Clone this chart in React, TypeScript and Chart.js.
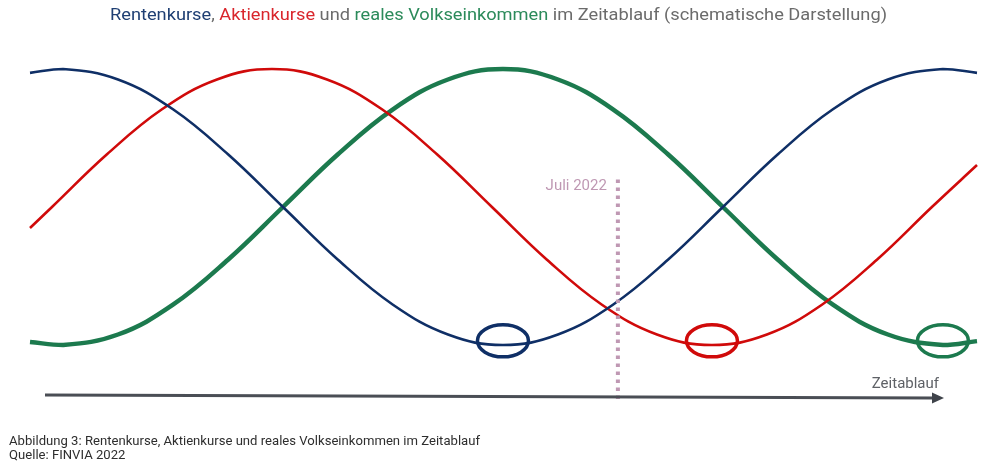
import React, { useEffect, useRef } from "react";
import { Chart, registerables } from "chart.js";
Chart.register(...registerables);

// Time axis (schematic units) and series values (0 = trough, 100 = peak)
const timesRentenVolk = [0, 0.6, 1.6, 2.6, 3.6, 4.6, 5.6, 6.6, 7.6, 8.6, 9.6, 10.6, 11.6, 12.6, 13.6, 14.6, 15.6, 16.6, 17.22];
const rentenkurse = [98.6, 100, 96.2, 85.4, 69.1, 50, 30.9, 14.6, 3.8, 0, 3.8, 14.6, 30.9, 50, 69.1, 85.4, 96.2, 100, 98.6];
const volkseinkommen = [1.1, 0, 3.8, 14.6, 30.9, 50, 69.1, 85.4, 96.2, 100, 96.2, 85.4, 69.1, 50, 30.9, 14.6, 3.8, 0, 1.4];
const timesAktien = [0, 0.4, 1.4, 2.4, 3.4, 4.4, 5.4, 6.4, 7.4, 8.4, 9.4, 10.4, 11.4, 12.4, 13.4, 14.4, 15.4, 16.4, 17.22];
const aktienkurse = [42.4, 50, 69.1, 85.4, 96.2, 100, 96.2, 85.4, 69.1, 50, 30.9, 14.6, 3.8, 0, 3.8, 14.6, 30.9, 50, 65.2];

const markerTime = 10.69;
const markerLabel = "Juli 2022";
const troughTimes = { renten: 8.6, aktien: 12.4, volk: 16.6 };
const axisLabel = "Zeitablauf";
const titleParts: [string, string][] = [
  ["Rentenkurse", "#1f3f73"],
  [", ", "#6b6b6b"],
  ["Aktienkurse", "#d9262c"],
  [" und ", "#6b6b6b"],
  ["reales Volkseinkommen", "#2b8a5a"],
  [" im Zeitablauf (schematische Darstellung)", "#6b6b6b"],
];
const caption1 = "Abbildung 3: Rentenkurse, Aktienkurse und reales Volkseinkommen im Zeitablauf";
const caption2 = "Quelle: FINVIA 2022";

const BLUE = "#0f2f66";
const RED = "#d00a0a";
const GREEN = "#1c7a4e";
const MAUVE = "#bf98b3";

function toPts(xs: number[], ys: number[]) {
  return xs.map((x, i) => ({ x, y: ys[i] }));
}

const decorPlugin = {
  id: "decor",
  afterDatasetsDraw(chart: any) {
    const ctx = chart.ctx as CanvasRenderingContext2D;
    const xs = chart.scales.x;
    const ys = chart.scales.y;
    // Trough ellipses
    const ell: [number, string][] = [
      [troughTimes.renten, BLUE],
      [troughTimes.aktien, RED],
      [troughTimes.volk, GREEN],
    ];
    ctx.save();
    ell.forEach(([t, c]) => {
      ctx.beginPath();
      ctx.ellipse(xs.getPixelForValue(t), ys.getPixelForValue(1.5), 25.5, 16, 0, 0, Math.PI * 2);
      ctx.strokeStyle = c;
      ctx.lineWidth = 3.5;
      ctx.stroke();
    });
    ctx.restore();

    // Dotted marker line
    const mx = xs.getPixelForValue(markerTime);
    ctx.save();
    ctx.strokeStyle = MAUVE;
    ctx.lineWidth = 4;
    ctx.setLineDash([3.5, 4.5]);
    ctx.beginPath();
    ctx.moveTo(mx, ys.getPixelForValue(60) );
    ctx.lineTo(mx, chart.chartArea.bottom + 54);
    ctx.stroke();
    ctx.setLineDash([]);
    ctx.fillStyle = MAUVE;
    ctx.font = "15px Roboto";
    ctx.textAlign = "right";
    ctx.textBaseline = "alphabetic";
    ctx.fillText(markerLabel, mx - 11, ys.getPixelForValue(56));
    ctx.restore();
  },
  afterDraw(chart: any) {
    const ctx = chart.ctx as CanvasRenderingContext2D;
    const area = chart.chartArea;
    ctx.save();
    // Arrow axis
    const x0 = area.left + 15;
    const x1 = area.right - 35;
    const y0 = area.bottom + 50;
    const y1 = area.bottom + 53;
    ctx.strokeStyle = "#4a4e55";
    ctx.lineWidth = 3;
    ctx.beginPath();
    ctx.moveTo(x0, y0);
    ctx.lineTo(x1 - 8, y1);
    ctx.stroke();
    ctx.fillStyle = "#3f434a";
    ctx.beginPath();
    ctx.moveTo(x1 + 2, y1);
    ctx.lineTo(x1 - 10, y1 - 5.5);
    ctx.lineTo(x1 - 10, y1 + 5.5);
    ctx.closePath();
    ctx.fill();

    ctx.fillStyle = "#5e6166";
    ctx.font = "15px Roboto";
    ctx.textAlign = "right";
    ctx.textBaseline = "alphabetic";
    ctx.fillText(axisLabel, x1 - 3, area.bottom + 43);

    // Title (multi-coloured)
    ctx.font = "16px Roboto";
    ctx.textAlign = "left";
    const total = titleParts.reduce((s, [t]) => s + ctx.measureText(t).width, 0);
    const targetW = 777;
    const sx = targetW / total;
    ctx.save();
    ctx.translate(110, 20);
    ctx.scale(sx, 1);
    let cx = 0;
    titleParts.forEach(([t, c]) => {
      ctx.fillStyle = c;
      ctx.fillText(t, cx, 0);
      cx += ctx.measureText(t).width;
    });
    ctx.restore();

    // Caption
    ctx.fillStyle = "#2e2e2e";
    ctx.font = "13.5px Roboto";
    const w1 = ctx.measureText(caption1).width;
    const s1 = 471 / w1;
    ctx.save();
    ctx.translate(9, 445);
    ctx.scale(s1, 1);
    ctx.fillText(caption1, 0, 0);
    ctx.fillText(caption2, 0, 14);
    ctx.restore();
    ctx.restore();
  },
};

export default function App() {
  const ref = useRef<HTMLCanvasElement | null>(null);
  useEffect(() => {
    if (!ref.current) return;
    const chart = new Chart(ref.current, {
      type: "line",
      data: {
        datasets: [
          {
            label: "Rentenkurse",
            data: toPts(timesRentenVolk, rentenkurse),
            borderColor: BLUE,
            borderWidth: 2.6,
            pointRadius: 0,
            tension: 0.4,
            clip: false as any,
          },
          {
            label: "Aktienkurse",
            data: toPts(timesAktien, aktienkurse),
            borderColor: RED,
            borderWidth: 2.6,
            pointRadius: 0,
            tension: 0.4,
            clip: false as any,
          },
          {
            label: "reales Volkseinkommen",
            data: toPts(timesRentenVolk, volkseinkommen),
            borderColor: GREEN,
            borderWidth: 4.5,
            pointRadius: 0,
            tension: 0.4,
            clip: false as any,
          },
        ],
      },
      options: {
        animation: false,
        responsive: false,
        layout: { padding: { left: 30, right: 22, top: 69, bottom: 125 } },
        scales: {
          x: { type: "linear", min: 0, max: 17.22, display: false },
          y: { min: 0, max: 100, display: false },
        },
        plugins: { legend: { display: false }, tooltip: { enabled: false }, title: { display: false } },
      },
      plugins: [decorPlugin],
    });
    return () => chart.destroy();
  }, []);
  return (
    <div style={{ position: "absolute", left: 0, top: 0, width: 999, height: 470, background: "#fff" }}>
      <canvas ref={ref} width={999} height={470} style={{ display: "block", width: 999, height: 470 }} />
    </div>
  );
}
